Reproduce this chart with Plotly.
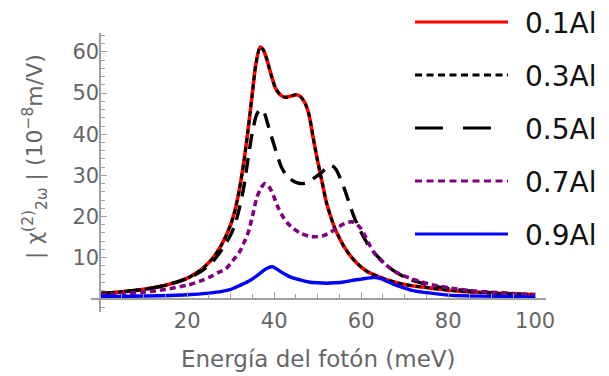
import plotly.graph_objects as go

# ---------------- data ----------------
x_01 = [0, 5, 10, 15, 20, 22, 24, 26, 28, 30, 31, 32, 33, 34, 35, 35.8, 36.8, 37.5, 38.2, 39.3,
        40.4, 41.5, 42.5, 44, 45, 46, 47, 48, 49, 50, 51, 52, 53, 54, 55, 56, 57.5, 59, 60.5,
        62, 64, 66, 68, 70, 73, 76, 80, 85, 90, 95, 100]
y_01 = [1.3, 1.7, 2.3, 3.3, 5.0, 6.2, 7.8, 10.0, 13.3, 18.0, 21.5, 26.5, 33, 41, 50, 57, 61.2, 60.5,
        58.6, 54.5, 51, 49.5, 49, 49.3, 49.6, 49.2, 47.8, 44.8, 39, 33.5, 28.5, 23.5, 20, 17, 14.8,
        12.8, 10.5, 8.7, 7.3, 6.3, 5.4, 4.6, 4.0, 3.5, 3.0, 2.6, 2.1, 1.7, 1.4, 1.2, 1.0]

x_03 = list(x_01)
y_03 = list(y_01)

x_05 = [0, 5, 10, 15, 20, 22, 24, 26, 28, 30, 31, 32, 33, 34, 35, 36, 36.9, 37.8, 38.5, 39.5,
        40.4, 41.6, 42.5, 43.5, 45, 46.5, 48, 49.5, 51, 52, 53.2, 54.2, 55.2, 56.3, 57.5, 58.5,
        59.8, 61, 62, 63.5, 65, 66.5, 68, 70, 73, 76, 80, 85, 90, 95, 100]
y_05 = [1.3, 1.7, 2.3, 3.3, 4.9, 5.9, 7.3, 9.2, 12, 15.5, 18, 22, 27, 34, 40.5, 44.8, 46.1, 45,
        42.6, 39, 36, 32.2, 30.5, 29.3, 28.3, 28.0, 28.5, 29.6, 30.8, 31.8, 32.4, 31.5, 29.3,
        26.3, 22.5, 19.6, 16.6, 14.2, 12.5, 10.6, 9.0, 7.6, 6.5, 5.3, 4.1, 3.2, 2.5, 1.9, 1.5,
        1.2, 1.0]

x_07 = [0, 5, 10, 15, 20, 23, 25, 27, 29, 30.5, 32, 33, 34, 35, 36, 37, 37.9, 38.8, 39.8, 41,
        42, 43, 44.5, 46, 48, 50, 51.5, 53, 54.5, 56, 57, 58, 59, 60, 61, 62, 63, 64.4, 66, 68,
        70, 73, 76, 80, 85, 90, 95, 100]
y_07 = [1.0, 1.2, 1.6, 2.3, 3.3, 4.3, 5.2, 6.3, 7.4, 9.3, 11.3, 13.5, 16, 20, 24.5, 27, 28,
        27.3, 25.2, 22, 20, 18.5, 17, 16, 15.2, 15.1, 15.4, 16.2, 17.3, 18.2, 18.6, 18.7, 18.1,
        17, 15.1, 13, 11.2, 9.5, 8.0, 6.5, 5.5, 4.4, 3.5, 2.7, 2.0, 1.6, 1.3, 1.0]

x_09 = [0, 10, 20, 25, 28, 30, 32, 34, 36, 37.5, 38.5, 39.6, 40.5, 42, 44, 46, 48, 50, 52, 54,
        56, 58, 60, 62, 63.2, 64.5, 66, 68, 70, 72, 75, 80, 85, 90, 95, 100]
y_09 = [0.6, 0.7, 1.0, 1.4, 1.8, 2.3, 3.2, 4.2, 5.6, 6.8, 7.5, 7.8, 7.3, 6.3, 5.2, 4.6, 4.1,
        3.9, 3.8, 3.9, 4.1, 4.5, 4.8, 5.1, 5.2, 4.9, 4.2, 3.3, 2.6, 2.0, 1.5, 0.9, 0.7, 0.6,
        0.5, 0.4]

series_names = ["0.1Al", "0.3Al", "0.5Al", "0.7Al", "0.9Al"]
x_ticks = [20, 40, 60, 80, 100]
y_ticks = [10, 20, 30, 40, 50, 60]
x_title = "Energía del fotón (meV)"
y_title = "| χ<sup>(2)</sup><sub>2ω</sub> | (10<sup>−8</sup>m/V)"

# ---------------- styling ----------------
FONT = "DejaVu Sans"
GRAY = "#666666"
AXC = "#a0a0a0"
OFF = 8  # default page body margin; the figure is shifted by this much
W, H = 609 - OFF, 376 - OFF
L, R, T, B = 91 - OFF, 546 - OFF, 33 - OFF, 312 - OFF
XR = [-2.1, 102.5]
YR = [-3.2, 64.6]

styles = [
    dict(color="#ff0000", width=3.6, dash="solid"),
    dict(color="#000000", width=3.0, dash="5px,4px"),
    dict(color="#000000", width=3.4, dash="15px,9px"),
    dict(color="#800080", width=3.6, dash="6px,4px"),
    dict(color="#0000ff", width=3.4, dash="solid"),
]
legend_dash = ["solid", "7px,4.5px", "28px,20px", "7px,4.5px", "solid"]

xs = [x_01, x_03, x_05, x_07, x_09]
ys = [y_01, y_03, y_05, y_07, y_09]

fig = go.Figure()
for name, xv, yv, st in zip(series_names, xs, ys, styles):
    fig.add_trace(go.Scatter(x=xv, y=yv, mode="lines", name=name,
                             line=dict(color=st["color"], width=st["width"], dash=st["dash"],
                                       shape="spline", smoothing=0.8),
                             showlegend=False, hoverinfo="skip"))


def pxx(p):
    # p is a pixel x position in the reference picture
    return (p - OFF - L) / (R - L)


def pyy(p):
    return (B - (p - OFF)) / (B - T)


shapes = []
annotations = []
rows = [22, 75, 128, 181, 234]
for name, st, ld, py in zip(series_names, styles, legend_dash, rows):
    shapes.append(dict(type="line", xref="paper", yref="paper",
                       x0=pxx(415), x1=pxx(508), y0=pyy(py), y1=pyy(py),
                       line=dict(color=st["color"], width=3, dash=ld)))
    annotations.append(dict(xref="paper", yref="paper", x=pxx(523), y=pyy(py + 1),
                            xanchor="left", yanchor="middle", showarrow=False,
                            text=name, font=dict(family=FONT, size=28, color="#111111")))

annotations.append(dict(xref="paper", yref="paper", x=pxx(318), y=pyy(359),
                        xanchor="center", yanchor="middle", showarrow=False,
                        text=x_title, font=dict(family=FONT, size=23, color=GRAY)))
annotations.append(dict(xref="paper", yref="paper", x=pxx(35), y=pyy(157),
                        xanchor="center", yanchor="middle", showarrow=False, textangle=-90,
                        text=y_title, font=dict(family=FONT, size=22, color=GRAY)))

fig.update_layout(
    width=W, height=H,
    margin=dict(l=L, r=W - R, t=T, b=H - B, pad=0),
    paper_bgcolor="white", plot_bgcolor="white",
    showlegend=False,
    shapes=shapes, annotations=annotations,
    xaxis=dict(range=XR, anchor="free", position=(0 - YR[0]) / (YR[1] - YR[0]),
               showgrid=False, zeroline=False, showline=True, linecolor=AXC, linewidth=1.5,
               tickmode="array", tickvals=x_ticks, ticks="inside", ticklen=6, tickwidth=1,
               tickcolor=AXC, ticklabelstandoff=3,
               tickfont=dict(family=FONT, size=21, color=GRAY),
               minor=dict(tickmode="linear", tick0=0, dtick=5, ticks="inside", ticklen=4,
                          tickcolor=AXC, showgrid=False)),
    yaxis=dict(range=YR, anchor="free", position=(0 - XR[0]) / (XR[1] - XR[0]),
               showgrid=False, zeroline=False, showline=True, linecolor=AXC, linewidth=1.5,
               tickmode="array", tickvals=y_ticks, ticks="inside", ticklen=6, tickwidth=1,
               tickcolor=AXC, ticklabelstandoff=-4,
               tickfont=dict(family=FONT, size=21, color=GRAY),
               minor=dict(tickmode="linear", tick0=0, dtick=2, ticks="inside", ticklen=4,
                          tickcolor=AXC, showgrid=False)),
)

fig.write_html("out.html")
